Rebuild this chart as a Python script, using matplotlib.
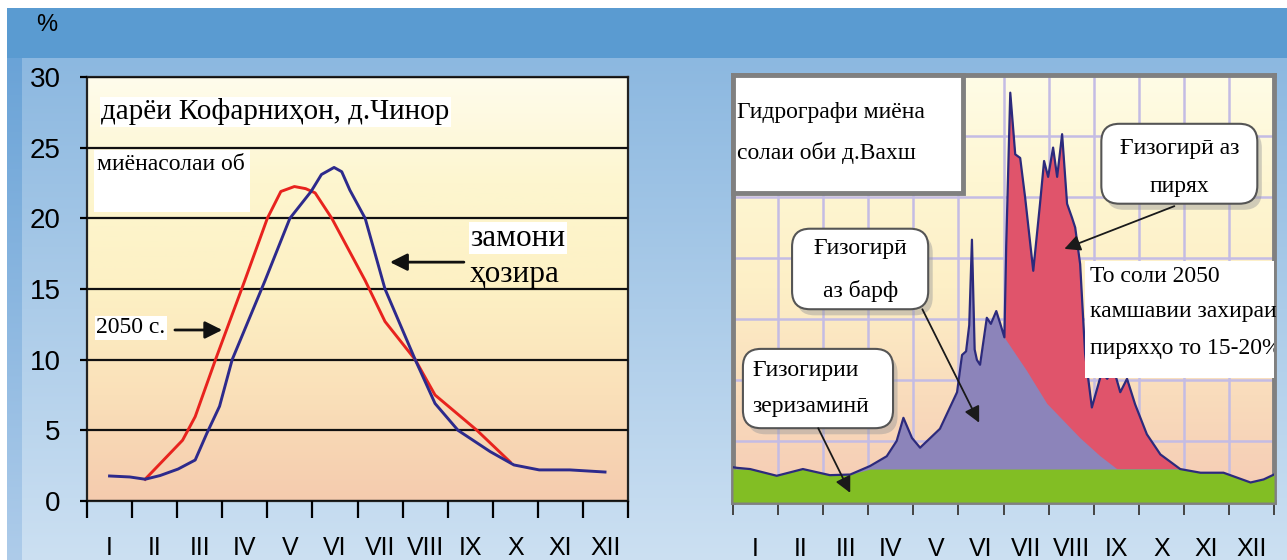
import numpy as np
import matplotlib.pyplot as plt
from matplotlib.colors import LinearSegmentedColormap
from matplotlib.patches import Rectangle, FancyBboxPatch, Polygon

W, H = 1287, 560

months = ['I', 'II', 'III', 'IV', 'V', 'VI', 'VII', 'VIII', 'IX', 'X', 'XI', 'XII']

# left chart: Kofarnihon, share of annual runoff by month (%)
now_x = [0.5, 0.95, 1.29, 1.62, 2.02, 2.40, 2.66, 2.94, 3.22, 3.95, 4.50, 4.97, 5.2, 5.48,
         5.65, 5.83, 6.17, 6.61, 7.28, 7.72, 8.23, 8.94, 9.47, 10.03, 10.71, 11.49]
now_y = [1.77, 1.7, 1.54, 1.8, 2.26, 2.9, 4.8, 6.7, 10.0, 15.6, 20.0, 21.9, 23.1, 23.6,
         23.3, 22.0, 20.0, 15.0, 10.0, 6.9, 5.0, 3.5, 2.55, 2.2, 2.2, 2.05]
future_x = [1.29, 2.12, 2.40, 2.85, 3.50, 4.0, 4.3, 4.6, 4.85, 5.06, 5.43, 6.17, 6.61,
            7.28, 7.72, 8.65, 9.38]
future_y = [1.54, 4.3, 5.97, 10.0, 15.6, 20.0, 21.9, 22.25, 22.1, 21.8, 20.0, 15.6, 12.7,
            10.0, 7.5, 5.0, 2.78]

# right chart: Vakhsh hydrograph (relative units)
hydro_x = [0.0, 0.09, 0.38, 0.97, 1.55, 2.15, 2.60, 3.04, 3.41, 3.63, 3.78, 3.97, 4.15, 4.59,
           4.97, 5.08, 5.17, 5.24, 5.30, 5.36, 5.41, 5.48, 5.63, 5.72, 5.84, 5.93, 6.02, 6.06,
           6.15, 6.26, 6.37, 6.48, 6.66, 6.81, 6.90, 6.99, 7.10, 7.19, 7.30, 7.41, 7.52, 7.59,
           7.70, 7.81, 7.96, 8.18, 8.30, 8.44, 8.59, 8.74, 8.92, 9.18, 9.48, 9.92, 10.37, 10.88,
           11.18, 11.48, 11.77, 12.0]
hydro_y = [0.57, 0.56, 0.54, 0.43, 0.54, 0.44, 0.45, 0.59, 0.75, 1.0, 1.38, 1.05, 0.89, 1.2,
           1.8, 2.41, 2.47, 2.9, 4.30, 2.5, 2.33, 2.25, 3.02, 2.92, 3.13, 2.92, 2.70, 4.2,
           6.71, 5.70, 5.64, 4.99, 3.79, 4.89, 5.59, 5.33, 5.81, 5.33, 6.03, 4.89, 4.66, 4.50,
           3.90, 2.43, 1.55, 2.13, 2.02, 2.19, 1.80, 2.02, 1.60, 1.11, 0.78, 0.54, 0.48, 0.48,
           0.40, 0.32, 0.37, 0.45]
snow_x = [6.02, 6.52, 6.97, 7.70, 8.15, 8.52]
snow_y = [2.70, 2.15, 1.61, 1.05, 0.75, 0.54]
glacier_from, glacier_to = 6.02, 9.92
base_level = 0.54

serif = ['Liberation Serif', 'DejaVu Serif']
sans = ['Liberation Sans', 'DejaVu Sans']

fig = plt.figure(figsize=(W / 100, H / 100), dpi=100)

# slide background
img = np.ones((H, W, 3))
t = np.clip((np.arange(H) - 58) / (H - 58), 0, 1)[:, None]
top, bot = np.array([0x8c, 0xb8, 0xe0]) / 255, np.array([0xcc, 0xe0, 0xf2]) / 255
img[58:, :, :] = (top + (bot - top) * t[58:])[:, None, :]
top2, bot2 = np.array([0x6a, 0xa3, 0xd7]) / 255, np.array([0xae, 0xcc, 0xea]) / 255
img[58:, 7:22, :] = (top2 + (bot2 - top2) * t[58:])[:, None, :]
img[8:58, :, :] = np.array([0x5a, 0x9b, 0xd1]) / 255
img[:8, :, :] = 1
img[:, :7, :] = 1
bg = fig.add_axes([0, 0, 1, 1])
bg.imshow(img, aspect='auto', extent=[0, 1, 0, 1])
bg.axis('off')

fig.text(47 / W, 1 - 25 / H, '%', ha='center', va='center', fontsize=17, family=sans)

grad = np.linspace(0, 1, 256)[:, None]

# ---- left chart
ax1 = fig.add_axes([87 / W, 1 - 501 / H, 541 / W, 424 / H])
cm_left = LinearSegmentedColormap.from_list('l', ['#f5cbae', '#fae0b9', '#fdf1c4', '#fdf6cf', '#fffcec'])
ax1.imshow(grad, cmap=cm_left, origin='lower', extent=[0, 12, 0, 30], aspect='auto', zorder=0)
ax1.set_xlim(0, 12)
ax1.set_ylim(0, 30)
ax1.set_yticks(range(0, 31, 5))
ax1.yaxis.grid(True, color='#111111', lw=1.6)
ax1.set_axisbelow(False)
for s in ax1.spines.values():
    s.set_color('#222222')
    s.set_linewidth(1.6)
ax1.set_xticks(range(13))
ax1.set_xticklabels([])
ax1.set_xticks(np.arange(12) + 0.5, minor=True)
ax1.set_xticklabels(months, minor=True, fontsize=18, family=sans)
ax1.tick_params(axis='x', which='major', length=12, width=1.6, direction='out')
ax1.tick_params(axis='x', which='minor', length=0, pad=25)
ax1.tick_params(axis='y', length=5, width=1.6, pad=14, labelsize=20)
for lb in ax1.get_yticklabels():
    lb.set_family(sans)

ax1.plot(now_x, now_y, color='#2d2a8c', lw=2.1, zorder=4)
ax1.plot(future_x, future_y, color='#e8231e', lw=2.1, zorder=3)

ax1.text(0.32, 27.55, 'дарёи Кофарниҳон, д.Чинор', fontsize=21, family=serif, va='center',
         bbox=dict(fc='white', ec='none', pad=1), zorder=6)
ax1.add_patch(Rectangle((0.16, 20.45), 3.46, 4.39, fc='white', ec='none', zorder=5))
ax1.text(0.22, 23.8, 'миёнасолаи об', fontsize=17, family=serif, va='center', zorder=6)
ax1.text(8.5, 18.6, 'замони', fontsize=22.5, family=serif, va='center',
         bbox=dict(fc='white', ec='none', pad=1), zorder=6)
ax1.text(8.5, 16.0, 'ҳозира', fontsize=22.5, family=serif, va='center', zorder=6)
ax1.text(0.2, 12.25, '2050 с.', fontsize=17, family=serif, va='center',
         bbox=dict(fc='white', ec='none', pad=1), zorder=6)
arrow_l = dict(arrowstyle='-|>', color='#111111', lw=2, mutation_scale=26, shrinkA=0, shrinkB=0)
ax1.annotate('', xy=(6.72, 16.9), xytext=(8.36, 16.9), arrowprops=arrow_l, zorder=7)
ax1.annotate('', xy=(3.0, 12.1), xytext=(1.95, 12.1), arrowprops=arrow_l, zorder=7)

# ---- right chart
ax2 = fig.add_axes([733 / W, 1 - 502 / H, 541 / W, 427 / H])
cm_right = LinearSegmentedColormap.from_list('r', ['#f5cab4', '#f9dcbc', '#fdefc6', '#fef6d2', '#fffce6'])
ax2.imshow(grad, cmap=cm_right, origin='lower', extent=[0, 12, 0, 7], aspect='auto', zorder=0)
ax2.set_xlim(0, 12)
ax2.set_ylim(0, 7)
for v in range(1, 12):
    ax2.axvline(v, color='#c4bce4', lw=1.8, zorder=1)
for v in range(1, 7):
    ax2.axhline(v, color='#c4bce4', lw=1.8, zorder=1)
for s in ax2.spines.values():
    s.set_color('#808080')
    s.set_linewidth(3.5)
ax2.set_yticks([])
ax2.set_xticks(range(13))
ax2.set_xticklabels([])
ax2.set_xticks(np.arange(12) + 0.5, minor=True)
ax2.set_xticklabels(months, minor=True, fontsize=18, family=sans)
ax2.tick_params(axis='x', which='major', length=9, width=1.4, color='#444444', direction='out')
ax2.tick_params(axis='x', which='minor', length=0, pad=25)

hx = np.array(hydro_x)
hy = np.array(hydro_y)
ax2.fill_between(hx, 0, hy, color='#8c84ba', lw=0, zorder=2)
sel = (hx >= glacier_from) & (hx <= glacier_to)
red_pts = list(zip(hx[sel], hy[sel])) + list(zip(snow_x[::-1], snow_y[::-1]))
ax2.add_patch(Polygon(red_pts, closed=True, fc='#e0546b', ec='none', zorder=3))
ax2.fill_between(hx, 0, np.minimum(hy, base_level), color='#82be24', lw=0, zorder=4)
ax2.plot(hx, hy, color='#2c2a7c', lw=1.6, zorder=5)

# title box
ax2.add_patch(Rectangle((0, 5.07), 5.1, 1.93, fc='white', ec='#808080', lw=3.5, zorder=6,
                        clip_on=False))
ax2.text(0.08, 6.38, 'Гидрографи миёна', fontsize=17, family=serif, va='center', zorder=7)
ax2.text(0.08, 5.72, 'солаи оби д.Вахш', fontsize=17, family=serif, va='center', zorder=7)

# text about 2050
ax2.add_patch(Rectangle((7.81, 2.03), 4.19, 1.92, fc='white', ec='none', zorder=6))
ax2.text(7.92, 3.70, 'То соли 2050', fontsize=17, family=serif, va='center', zorder=7)
ax2.text(7.92, 3.13, 'камшавии захираи', fontsize=17, family=serif, va='center', zorder=7)
ax2.text(7.92, 2.52, 'пиряхҳо то 15-20%', fontsize=17, family=serif, va='center', zorder=7,
         clip_on=True)

asp = 45.05 / 61


def callout(x0, y0, w, h, lines, ys, xt=None):
    ax2.add_patch(FancyBboxPatch((x0 + 0.1, y0 - 0.1), w, h, boxstyle='round,pad=0,rounding_size=0.4',
                                 mutation_aspect=asp, fc='#9a9a9a', ec='none', alpha=0.45, zorder=6))
    ax2.add_patch(FancyBboxPatch((x0, y0), w, h, boxstyle='round,pad=0,rounding_size=0.4',
                                 mutation_aspect=asp, fc='white', ec='#555555', lw=1.5, zorder=7))
    for txt, yy in zip(lines, ys):
        if xt is None:
            ax2.text(x0 + w / 2, yy, txt, fontsize=17, family=serif, ha='center', va='center', zorder=8)
        else:
            ax2.text(xt, yy, txt, fontsize=17, family=serif, ha='left', va='center', zorder=8)


arrow_r = dict(arrowstyle='-|>', color='#1a1a1a', lw=1.3, mutation_scale=24, shrinkA=0, shrinkB=0)
callout(8.17, 4.89, 3.46, 1.31, ['Ғизогирӣ аз', 'пирях'], [5.80, 5.18])
ax2.annotate('', xy=(7.35, 4.15), xytext=(9.79, 4.85), arrowprops=arrow_r, zorder=9)
callout(1.31, 3.16, 3.02, 1.32, ['Ғизогирӣ', 'аз барф'], [4.15, 3.46])
ax2.annotate('', xy=(5.46, 1.30), xytext=(4.20, 3.16), arrowprops=arrow_r, zorder=9)
callout(0.22, 1.21, 3.33, 1.30, ['Ғизогирии', 'зеризаминӣ'], [2.15, 1.57], xt=0.42)
ax2.annotate('', xy=(2.60, 0.15), xytext=(1.89, 1.21), arrowprops=arrow_r, zorder=9)

fig.savefig('out.png', dpi=100)
